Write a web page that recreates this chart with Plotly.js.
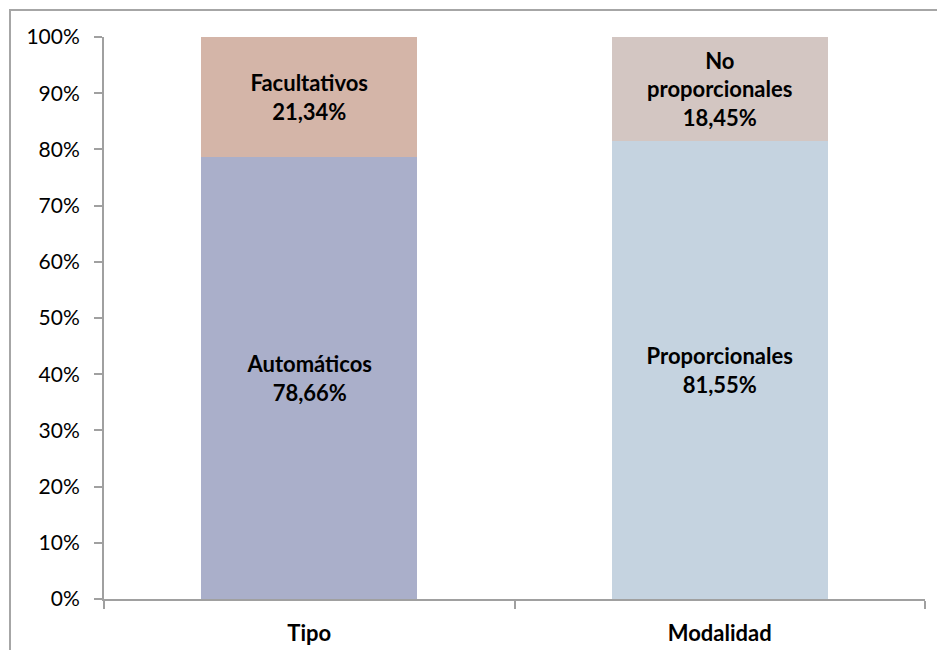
<!DOCTYPE html>
<html>
<head>
<meta charset="utf-8">
<script src="https://cdn.plot.ly/plotly-3.0.1.min.js"></script>
<style>
html,body{margin:0;padding:0;background:#fff;}
#wrap{position:relative;width:937px;height:650px;overflow:hidden;}
#chart{position:absolute;left:0;top:0;width:937px;height:650px;}
#frame{position:absolute;left:9px;top:9px;width:1000px;height:1000px;border-left:2px solid #a6a6a6;border-top:2px solid #a6a6a6;pointer-events:none;}
</style>
</head>
<body>
<div id="wrap"><div id="chart"></div><div id="frame"></div></div>
<script>
const categories = ["Tipo", "Modalidad"];
const lowerNames = ["Automáticos", "Proporcionales"];
const lowerValues = [78.66, 81.55];
const upperNames = ["Facultativos", "No<br>proporcionales"];
const upperValues = [21.34, 18.45];
const lowerColors = ["#aaafca", "#c5d3e0"];
const upperColors = ["#d4b5a8", "#d3c6c2"];

const fmt = v => v.toFixed(2).replace('.', ',') + '%';
const font = "Lato, 'Liberation Sans', sans-serif";

const common = {
  type: 'bar',
  x: categories,
  width: 0.525,
  textposition: 'inside',
  insidetextanchor: 'middle',
  constraintext: 'none',
  textfont: {family: font, size: 22, color: '#000', weight: 'bold'},
  hoverinfo: 'none',
  showlegend: false
};

const traces = [
  Object.assign({}, common, {
    y: lowerValues,
    marker: {color: lowerColors},
    text: lowerNames.map((n, i) => '<b>' + n + '<br>' + fmt(lowerValues[i]) + '</b>')
  }),
  Object.assign({}, common, {
    y: upperValues,
    marker: {color: upperColors},
    text: upperNames.map((n, i) => '<b>' + n + '<br>' + fmt(upperValues[i]) + '</b>')
  })
];

const layout = {
  width: 937, height: 650,
  margin: {l: 104, r: 12, t: 37, b: 51},
  barmode: 'stack',
  paper_bgcolor: 'rgba(0,0,0,0)',
  plot_bgcolor: '#fff',
  font: {family: font, size: 21, color: '#000'},
  xaxis: {
    type: 'category',
    showline: true, linecolor: '#a0a0a0', linewidth: 2,
    ticks: 'outside', tickson: 'boundaries', ticklen: 8, tickcolor: '#a0a0a0', tickwidth: 2,
    ticklabelstandoff: 14,
    tickfont: {family: font, size: 22, color: '#000', weight: 'bold'},
    showgrid: false, zeroline: false
  },
  yaxis: {
    range: [0, 100], dtick: 10, ticksuffix: '%',
    showline: true, linecolor: '#a0a0a0', linewidth: 2,
    ticks: 'outside', ticklen: 8, tickcolor: '#a0a0a0', tickwidth: 2,
    ticklabelstandoff: 10,
    tickfont: {family: font, size: 21, color: '#000'},
    showgrid: false, zeroline: false
  }
};

Plotly.newPlot('chart', traces, layout, {displayModeBar: false, staticPlot: true});
</script>
</body>
</html>
